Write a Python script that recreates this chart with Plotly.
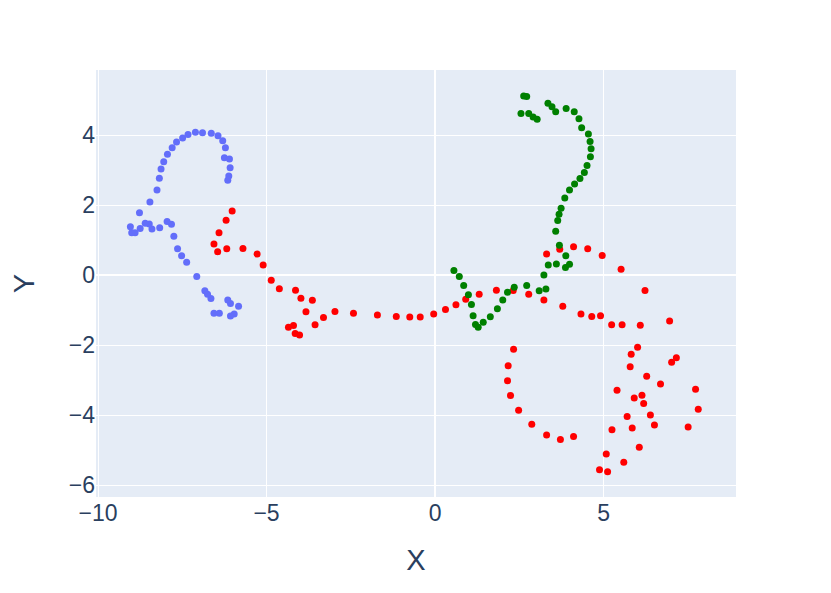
import plotly.graph_objects as go

blue_x = [-5.83, -5.96, -6.07, -6.07, -6.15, -6.40, -6.56, -6.65, -6.75, -6.83, -7.07, -7.37, -7.52, -7.64,
          -7.75, -7.82, -7.95, -8.17, -8.40, -8.48, -8.60, -8.75, -8.90, -9.00, -9.04, -8.77, -8.46, -8.25,
          -8.18, -8.13, -8.05, -7.94, -7.80, -7.67, -7.49, -7.33, -7.11, -6.90, -6.64, -6.44, -6.30, -6.22,
          -6.25, -6.10, -6.08, -6.12, -6.15]
blue_y = [-0.89, -1.11, -1.17, -0.81, -0.71, -1.09, -1.09, -0.67, -0.55, -0.45, -0.04, 0.37, 0.55, 0.75,
          1.11, 1.45, 1.53, 1.35, 1.32, 1.46, 1.48, 1.33, 1.21, 1.21, 1.38, 1.78, 2.09, 2.43,
          2.77, 3.03, 3.24, 3.45, 3.64, 3.80, 3.92, 4.02, 4.08, 4.07, 4.05, 3.98, 3.84, 3.64,
          3.35, 3.32, 3.07, 2.83, 2.71]

red_x = [-6.02, -6.20, -6.41, -6.56, -6.45, -6.18, -5.70, -5.28, -5.10, -4.86, -4.62, -4.14, -3.98, -3.64,
         -3.83, -3.56, -4.20, -4.35, -4.15, -4.02, -3.31, -2.97, -2.42, -1.71, -1.15, -0.75, -0.44, -0.04,
         0.31, 0.62, 0.91, 1.31, 1.82, 2.32, 2.78, 3.23, 3.79, 4.33, 4.65, 4.91, 5.24, 5.55, 6.09, 6.96,
         6.23, 5.52, 4.96, 4.53, 4.11, 3.70, 3.31,
         2.33, 2.17, 2.15, 2.24, 2.48, 2.87, 3.31, 3.72, 4.11,
         6.01, 5.82, 7.16, 7.02, 5.79, 6.28, 6.69, 5.40, 7.73, 6.14, 5.91, 6.19, 7.81, 6.39, 5.70, 6.51,
         5.85, 5.25, 7.51, 6.06, 5.08, 5.60, 4.88, 5.12]
red_y = [1.83, 1.57, 1.21, 0.89, 0.67, 0.75, 0.76, 0.60, 0.29, -0.15, -0.39, -0.43, -0.66, -0.72,
         -1.05, -1.42, -1.44, -1.49, -1.67, -1.71, -1.21, -1.04, -1.09, -1.14, -1.18, -1.20, -1.20, -1.11,
         -0.98, -0.85, -0.69, -0.55, -0.43, -0.44, -0.55, -0.71, -0.89, -1.11, -1.18, -1.16, -1.42, -1.42, -1.43, -1.31,
         -0.44, 0.17, 0.56, 0.75, 0.81, 0.74, 0.60,
         -2.12, -2.59, -3.02, -3.44, -3.86, -4.26, -4.57, -4.70, -4.61,
         -2.06, -2.26, -2.36, -2.49, -2.62, -2.89, -3.11, -3.29, -3.26, -3.43, -3.51, -3.67, -3.83, -4.00, -4.04, -4.28,
         -4.37, -4.42, -4.34, -4.92, -5.11, -5.35, -5.56, -5.62]

green_x = [0.56, 0.72, 0.85, 0.99, 1.08, 1.13, 1.20, 1.28, 1.43, 1.64, 1.85, 2.01, 2.15, 2.35, 2.72, 3.09,
           3.29, 3.23, 3.36, 3.60, 3.87, 3.99, 3.88, 3.69, 3.58, 3.64, 3.68, 3.74, 3.85, 3.99, 4.14, 4.30,
           4.43, 4.51, 4.61, 4.63, 4.60, 4.55, 4.35, 4.27, 4.13, 3.89, 3.58, 3.47, 3.35, 3.03, 2.91, 2.78,
           2.55, 2.63, 2.72]
green_y = [0.13, -0.04, -0.30, -0.56, -0.84, -1.16, -1.41, -1.49, -1.35, -1.19, -0.96, -0.71, -0.49, -0.35, -0.30, -0.45,
           -0.40, 0.00, 0.29, 0.32, 0.22, 0.31, 0.55, 0.85, 1.25, 1.56, 1.74, 1.91, 2.20, 2.43, 2.60, 2.76,
           2.93, 3.13, 3.38, 3.61, 3.82, 4.03, 4.21, 4.47, 4.67, 4.76, 4.67, 4.81, 4.91, 4.45, 4.52, 4.62,
           4.62, 5.12, 5.10]

fig = go.Figure()
fig.add_trace(go.Scatter(x=blue_x, y=blue_y, mode="markers", marker=dict(color="#636efa", size=7), showlegend=False))
fig.add_trace(go.Scatter(x=red_x, y=red_y, mode="markers", marker=dict(color="red", size=7), showlegend=False))
fig.add_trace(go.Scatter(x=green_x, y=green_y, mode="markers", marker=dict(color="green", size=7), showlegend=False))

fig.update_layout(
    width=831, height=593,
    template="plotly",
    margin=dict(l=88, r=103, t=62, b=104),
    font=dict(family="Liberation Sans, Arial, sans-serif"),
    xaxis=dict(title=dict(text="X", font=dict(size=29), standoff=24), tickfont=dict(size=23),
               range=[-10.06, 8.93], automargin=False),
    yaxis=dict(title=dict(text="Y", font=dict(size=29), standoff=43), tickfont=dict(size=23),
               range=[-6.34, 5.86], automargin=False),
)
fig.write_html("out.html")
